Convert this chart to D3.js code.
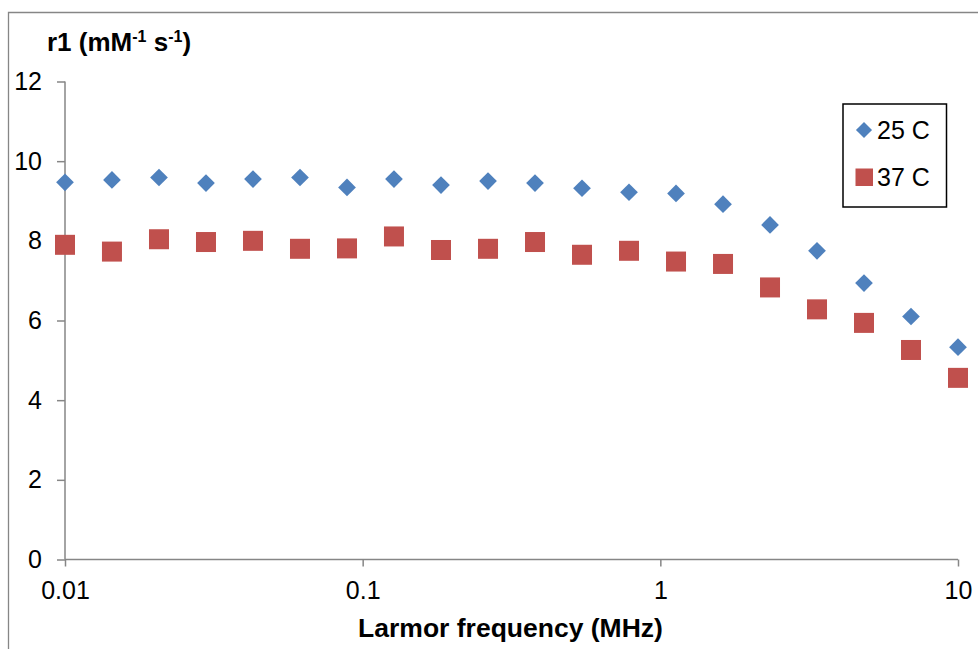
<!DOCTYPE html>
<html>
<head>
<meta charset="utf-8">
<title>r1 vs Larmor frequency</title>
<script src="https://cdn.jsdelivr.net/npm/d3@7"></script>
<style>
  body { margin: 0; background: #fff; }
  svg text { font-family: "Liberation Sans", Arial, sans-serif; }
</style>
</head>
<body>
<div id="chart"></div>
<script>
// Larmor frequency (MHz), log spaced
var freq = [0.01, 0.01438, 0.02069, 0.02976, 0.04281, 0.06158, 0.08859, 0.1274, 0.1833, 0.2637,
            0.3793, 0.5456, 0.7848, 1.129, 1.624, 2.336, 3.360, 4.833, 6.952, 10];
var r1At25 = [9.47, 9.53, 9.59, 9.45, 9.55, 9.59, 9.34, 9.55, 9.40, 9.50,
              9.45, 9.32, 9.22, 9.19, 8.92, 8.40, 7.75, 6.94, 6.10, 5.33];
var r1At37 = [7.90, 7.73, 8.04, 7.97, 8.00, 7.80, 7.81, 8.11, 7.77, 7.80,
              7.97, 7.65, 7.75, 7.48, 7.42, 6.83, 6.28, 5.94, 5.26, 4.56];
var seriesNames = ["25 C", "37 C"];
var seriesColors = ["#4F81BD", "#C0504D"];
var xTicks = [0.01, 0.1, 1, 10];
var yTicks = [0, 2, 4, 6, 8, 10, 12];

var width = 978, height = 649;
var svg = d3.select("#chart").append("svg")
  .attr("width", width)
  .attr("height", height);

// outer chart border (runs off the right / bottom of the picture)
svg.append("path")
  .attr("d", "M8.5,660 L8.5,12.5 L990,12.5")
  .attr("fill", "none")
  .attr("stroke", "#868686")
  .attr("stroke-width", 1.3);

var x = d3.scaleLog().domain([0.01, 10]).range([65, 958]);
var y = d3.scaleLinear().domain([0, 12]).range([559.5, 81.5]);

var axisColor = "#868686";

// y axis
var yAxis = svg.append("g").attr("transform", "translate(65,0)")
  .call(d3.axisLeft(y).tickValues(yTicks).tickSize(8).tickPadding(15).tickFormat(d3.format("d")));
// x axis
var xAxis = svg.append("g").attr("transform", "translate(0,559.5)")
  .call(d3.axisBottom(x).tickValues(xTicks).tickSize(7).tickPadding(15)
    .tickFormat(function(d) { return d < 1 ? d3.format(".2~f")(d) : d3.format("d")(d); }));

[yAxis, xAxis].forEach(function(g) {
  g.select(".domain").attr("stroke", axisColor).attr("stroke-width", 1.5);
  g.selectAll(".tick line").attr("stroke", axisColor).attr("stroke-width", 1.5);
  g.selectAll(".tick text").attr("fill", "#000").style("font-size", "25px")
    .style("font-family", "'Liberation Sans', Arial, sans-serif");
});
yAxis.select(".domain").attr("d", "M0,559.5V81.5");
xAxis.select(".domain").attr("d", "M65,0H958");

// markers
var diamond = d3.symbol().type(d3.symbolDiamond2).size(200);
svg.append("g").selectAll("path").data(freq).enter().append("path")
  .attr("d", diamond)
  .attr("transform", function(d, i) { return "translate(" + x(d) + "," + y(r1At25[i]) + ")"; })
  .attr("fill", seriesColors[0]);

svg.append("g").selectAll("rect").data(freq).enter().append("rect")
  .attr("x", function(d) { return x(d) - 10; })
  .attr("y", function(d, i) { return y(r1At37[i]) - 10; })
  .attr("width", 20)
  .attr("height", 20)
  .attr("fill", seriesColors[1]);

// axis titles
var title = svg.append("text")
  .attr("x", 47).attr("y", 51)
  .style("font-size", "26px").style("font-weight", "bold");
title.append("tspan").text("r1 (mM");
title.append("tspan").attr("dy", -9).style("font-size", "16px").text("-1");
title.append("tspan").attr("dy", 9).text(" s");
title.append("tspan").attr("dy", -9).style("font-size", "16px").text("-1");
title.append("tspan").attr("dy", 9).text(")");

svg.append("text")
  .attr("x", 510.5).attr("y", 637)
  .attr("text-anchor", "middle")
  .style("font-size", "26.5px").style("font-weight", "bold")
  .text("Larmor frequency (MHz)");

// legend
var legend = svg.append("g");
legend.append("rect")
  .attr("x", 843).attr("y", 104)
  .attr("width", 103.5).attr("height", 103)
  .attr("fill", "#fff").attr("stroke", "#000").attr("stroke-width", 1.5);
var legendRows = [130, 177];
legend.append("path")
  .attr("d", d3.symbol().type(d3.symbolDiamond2).size(165))
  .attr("transform", "translate(864," + legendRows[0] + ")")
  .attr("fill", seriesColors[0]);
legend.append("rect")
  .attr("x", 855.5).attr("y", legendRows[1] - 8.5)
  .attr("width", 17.5).attr("height", 17.5)
  .attr("fill", seriesColors[1]);
legend.selectAll("text.lab").data(seriesNames).enter().append("text")
  .attr("class", "lab")
  .attr("x", 877)
  .attr("y", function(d, i) { return legendRows[i] + 9; })
  .style("font-size", "25px")
  .text(function(d) { return d; });
</script>
</body>
</html>
